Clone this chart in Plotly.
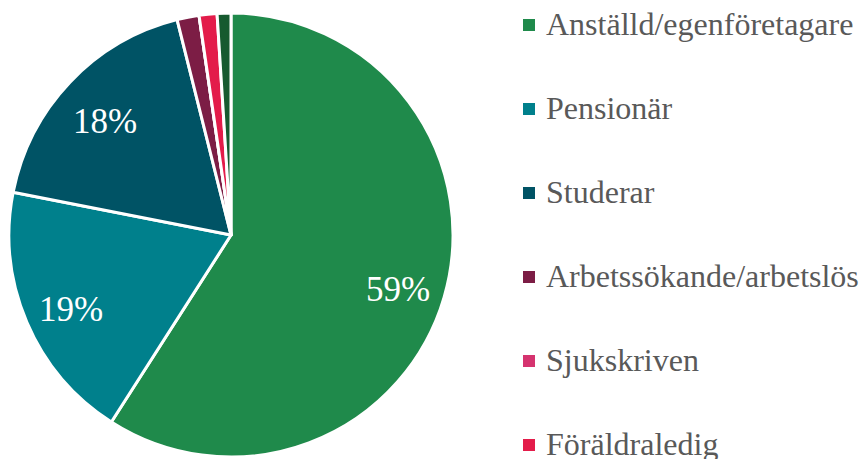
import math
import plotly.graph_objects as go

labels = ["Anställd/egenföretagare", "Pensionär", "Studerar", "Arbetssökande/arbetslös",
          "Sjukskriven", "Föräldraledig", "Annat"]
values = [59.0, 19.0, 18.0, 1.6, 0.0, 1.3, 1.0]
colors = ["#1f8a4b", "#00808c", "#005365", "#7c1d45", "#d5336f", "#e31c4a", "#165a2f"]

W, H = 865, 459
# pie placement (pixels)
cx, cy, R = 231, 235, 222

fig = go.Figure(go.Pie(
    labels=labels, values=values, textinfo="none",
    marker=dict(colors=colors, line=dict(color="white", width=3)),
    sort=False, direction="clockwise", rotation=0, showlegend=False,
    domain=dict(x=[(cx - R) / W, (cx + R) / W], y=[1 - (cy + R) / H, 1 - (cy - R) / H]),
    hoverinfo="label+percent",
))

# percentage labels for large slices, placed at 0.79 R along each slice's mid-angle
total = sum(values)
cum = 0.0
for v in values:
    mid = (cum + v / 2) / total * 2 * math.pi
    cum += v
    if v < 5:
        continue
    r = 0.79 * 220
    px = cx + r * math.sin(mid)
    py = cy - r * math.cos(mid) + 6
    fig.add_annotation(xref="paper", yref="paper", x=px / W, y=1 - py / H,
                       xanchor="center", yanchor="middle", text=f"{round(v / total * 100)}%",
                       showarrow=False,
                       font=dict(family="Liberation Serif", size=35, color="white"))

# manual legend (spacing as in the reference)
y0, step = 25, 84
for i, (lab, col) in enumerate(zip(labels, colors)):
    yc = y0 + i * step
    fig.add_shape(type="rect", xref="paper", yref="paper",
                  x0=523 / W, x1=535 / W, y0=1 - (yc + 6) / H, y1=1 - (yc - 6) / H,
                  fillcolor=col, line=dict(width=0))
    fig.add_annotation(xref="paper", yref="paper", x=544 / W, y=1 - (yc - 1) / H,
                       xanchor="left", yanchor="middle", text=lab, showarrow=False,
                       font=dict(family="Liberation Serif", size=32, color="#595959"))

fig.update_layout(width=W, height=H, margin=dict(l=0, r=0, t=0, b=0),
                  paper_bgcolor="white", plot_bgcolor="white")
fig.write_html("out.html", config={"displayModeBar": False},
               post_script="document.body.style.margin='0';")
